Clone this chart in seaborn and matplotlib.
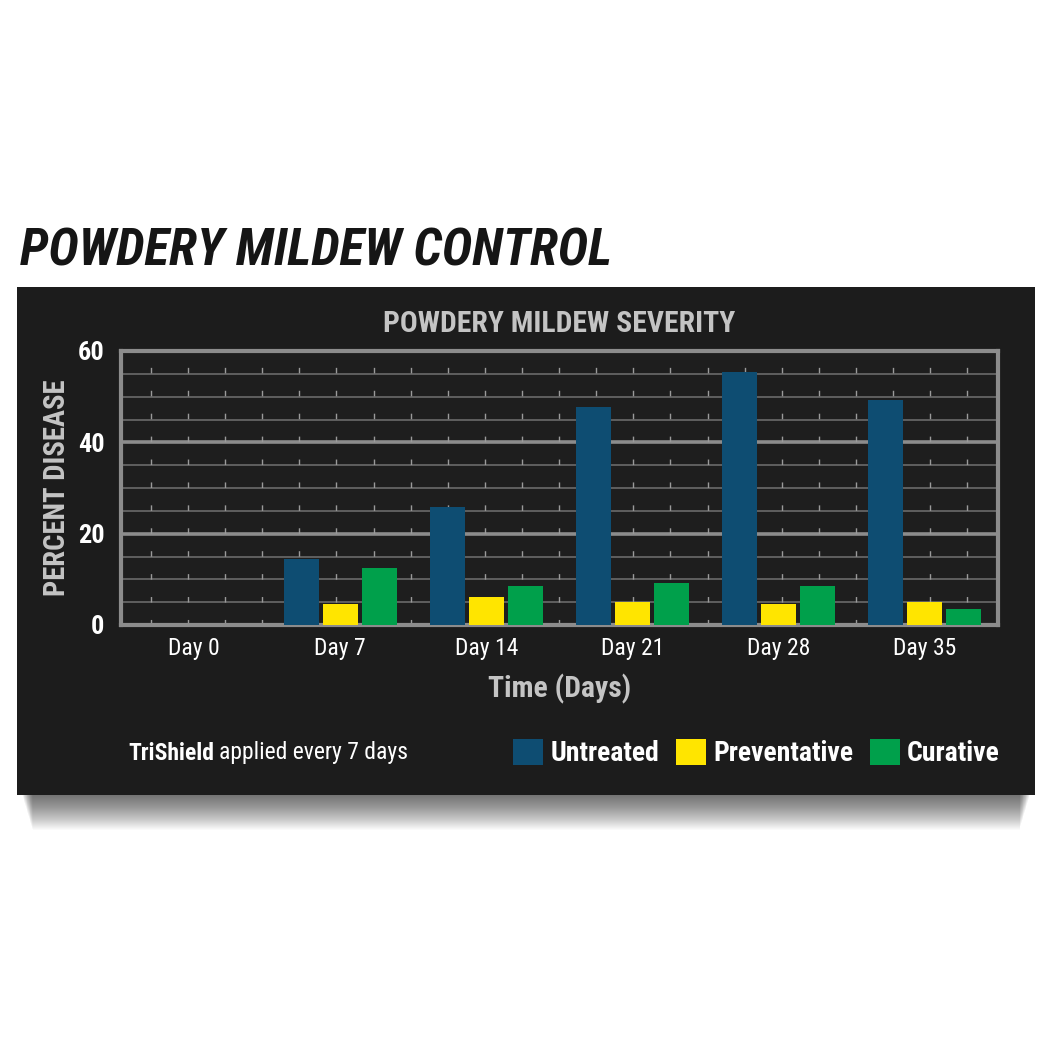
import numpy as np
import pandas as pd
import matplotlib
matplotlib.use("Agg")
import matplotlib.pyplot as plt
import seaborn as sns
from matplotlib.patches import Rectangle, Patch

# ==========================================
# DATA
# ==========================================
days = ["Day 0", "Day 7", "Day 14", "Day 21", "Day 28", "Day 35"]
treatments = ["Untreated", "Preventative", "Curative"]
untreated = [0, 14.4, 25.8, 47.8, 55.3, 49.2]
preventative = [0, 4.5, 6.2, 5.0, 4.5, 5.0]
curative = [0, 12.4, 8.5, 9.3, 8.6, 3.5]
y_ticks = [0, 20, 40, 60]

colors = {"Untreated": "#0e4d72", "Preventative": "#ffe500", "Curative": "#00a04b"}

df = pd.DataFrame({
    "Day": days * 3,
    "Treatment": ["Untreated"] * 6 + ["Preventative"] * 6 + ["Curative"] * 6,
    "Percent": untreated + preventative + curative,
})

sns.set_theme(style="dark")
plt.rcParams["font.family"] = ["Roboto Condensed", "Liberation Sans Narrow", "Roboto", "DejaVu Sans"]

W = H = 1050
def fx(px):
    return px / W
def fy(py):
    return 1 - py / H

fig = plt.figure(figsize=(10.5, 10.5), dpi=100, facecolor="white")

def fit_width(txt, target_px, vertical=False):
    # scale a text's font size so it spans target_px pixels
    fig.canvas.draw()
    ext = txt.get_window_extent()
    w = ext.height if vertical else ext.width
    txt.set_fontsize(txt.get_fontsize() * target_px / w)

# soft shadow under the panel
for k in range(1, 36):
    fig.add_artist(Rectangle((fx(22 + k * 0.3), fy(795 + k)), fx(1008 - k * 0.6), fx(k),
                             transform=fig.transFigure, facecolor="black",
                             alpha=0.02, edgecolor="none", zorder=0))

# chalkboard panel
fig.add_artist(Rectangle((fx(17), fy(795)), fx(1035 - 17), fx(795 - 287),
                         transform=fig.transFigure, facecolor="#1c1c1c",
                         edgecolor="none", zorder=0))

# plot area
ax = fig.add_axes([fx(121), fy(625), fx(998 - 121), fx(625 - 351)])
ax.set_facecolor("#1e1e1e")

sns.barplot(data=df, x="Day", y="Percent", hue="Treatment", hue_order=treatments,
            palette=colors, width=0.8, gap=0.1, saturation=1, ax=ax,
            zorder=3, legend=False, errorbar=None, linewidth=0, edgecolor="none")

ax.set_ylim(0, 60)
ax.set_xlim(-0.5, 5.5)

# horizontal grid: thin every 5, thick every 20
for v in np.arange(5, 60, 5):
    major = v % 20 == 0
    ax.axhline(v, color="#8c8c8c" if major else "#6a6a6a",
               lw=2.6 if major else 1.2, zorder=1)
# short dashed verticals
for xv in np.linspace(-0.295, 5.29, 23):
    ax.axvline(xv, color="#9a9a9a", lw=1.0, linestyle=(0, (4, 12.5)), zorder=1)

for s in ax.spines.values():
    s.set_visible(True)
    s.set_color("#8c8c8c")
    s.set_linewidth(3)

ax.set_yticks(y_ticks)
ax.set_yticklabels([str(t) for t in y_ticks], color="white", fontsize=19, fontweight="bold")
ax.set_xticks(range(len(days)))
ax.set_xticklabels(days, color="white", fontsize=17)
ax.tick_params(axis="both", length=0)
ax.tick_params(axis="y", pad=12)
ax.tick_params(axis="x", pad=9)
ax.grid(False)

xl = ax.set_xlabel("Time (Days)", color="#c4c4c4", fontsize=21, fontweight="bold", labelpad=10)
yl = ax.set_ylabel("PERCENT DISEASE", color="#c4c4c4", fontsize=20, fontweight="bold", labelpad=5)
tt = ax.set_title("POWDERY MILDEW SEVERITY", color="#c4c4c4", fontsize=21, fontweight="bold", pad=14)
fit_width(xl, 143)
fit_width(yl, 216, vertical=True)
fit_width(tt, 351)

# page heading
head = fig.text(fx(20), fy(251), "POWDERY MILDEW CONTROL", fontsize=34, fontweight="bold",
                style="italic", color="#151515", ha="left", va="center")
fit_width(head, 592)

# footnote
t1 = fig.text(fx(128), fy(753), "TriShield", fontsize=17, fontweight="bold",
              color="white", ha="left", va="center")
fig.canvas.draw()
bb = t1.get_window_extent()
fig.text(bb.x1 / W + fx(5), fy(753), "applied every 7 days", fontsize=17,
         color="white", ha="left", va="center")

# legend
handles = [Patch(facecolor=colors[t], edgecolor="none", label=t) for t in treatments]
leg = fig.legend(handles=handles, loc="center right", bbox_to_anchor=(fx(1000), fy(753)),
                 ncol=3, frameon=False, handlelength=1.1, handleheight=1.1,
                 handletextpad=0.25, columnspacing=0.6, fontsize=20, borderpad=0,
                 borderaxespad=0)
for txt in leg.get_texts():
    txt.set_color("white")
    txt.set_fontweight("bold")

fig.savefig("out.png", dpi=100, facecolor="white")
plt.close(fig)
